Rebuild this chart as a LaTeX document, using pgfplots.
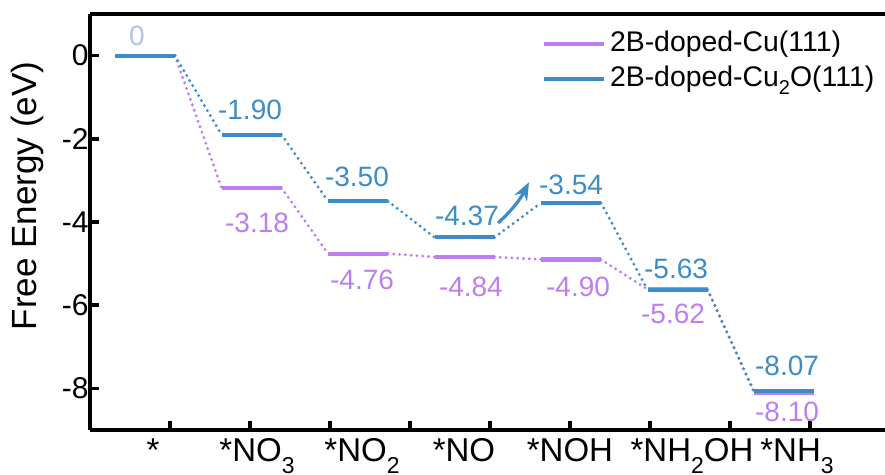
\documentclass[border=0pt]{standalone}
\usepackage{pgfplots}
\pgfplotsset{compat=1.18}
\usepackage{fontspec}
\setmainfont{Liberation Sans}
\usetikzlibrary{arrows.meta}

\definecolor{cuoblue}{RGB}{60,140,200}
\definecolor{cupurple}{RGB}{190,125,240}
\definecolor{zerolbl}{RGB}{175,195,240}

\newcommand{\vallbl}{\fontsize{14}{16}\selectfont}
% lowered subscripts for the species names and the legend
\newcommand{\tsub}[1]{\raisebox{-0.34em}{\fontsize{11.5}{12}\selectfont #1}}
\newcommand{\lsub}[1]{\raisebox{-0.3em}{\fontsize{10}{11}\selectfont #1}}

\begin{document}
\begin{tikzpicture}
\begin{axis}[
  at={(0,0)}, anchor=south west,
  scale only axis, width=397.5pt, height=208pt,
  xmin=-0.5164, xmax=6.948, ymin=-9, ymax=1,
  axis x line*=box, axis y line*=left,
  axis line style={-, line width=2pt},
  tick align=inside,
  xtick pos=left, ytick pos=left,
  major tick length=4.5pt,
  tick style={line width=1.8pt, black},
  ytick={-8,-6,-4,-2,0},
  yticklabel style={font=\fontsize{15}{17}\selectfont, inner xsep=0.5pt},
  /pgf/number format/assume math mode=true,
  xtick={0.2347,0.9859,1.7371,2.4883,3.2394,3.9906,4.7418,5.4930,6.2441},
  xticklabels={},
  extra x ticks={0.075,1.052,2.038,2.995,3.990,5.136,6.122},
  extra x tick labels={*,*NO\tsub{3},*NO\tsub{2},*NO,*NOH,*NH\tsub{2}OH,*NH\tsub{3}},
  extra x tick style={major tick length=0pt,
    xticklabel style={font=\fontsize{16.5}{18}\selectfont, inner ysep=2pt,
      anchor=base, yshift=-16pt}},
  ylabel={Free Energy (eV)},
  ylabel style={at={(rel axis cs:-0.0667,0.5625)}, anchor=base,
    font=\fontsize{17.5}{20}\selectfont},
  legend style={draw=none, fill=none, at={(rel axis cs:0.5686,0.9615)},
    anchor=north west, inner sep=0pt, outer sep=0pt, row sep=4pt,
    column sep=2pt, font=\fontsize{14.2}{16}\selectfont,
    nodes={inner sep=0pt, text height=10.5pt, text depth=3pt}},
  legend cell align=left,
  legend image code/.code={\draw[line width=2pt] (0pt,0pt) -- (30pt,0pt);},
  unbounded coords=jump,
  clip=false,
]

% dotted connectors between consecutive intermediates
\addplot[cupurple, line width=1.6pt, line cap=round, dash pattern=on 0pt off 2.9pt, forget plot]
  coordinates {(0.2817,0) (0.7183,-3.18) (1,nan)
               (1.2817,-3.18) (1.7183,-4.76) (2,nan)
               (2.2817,-4.76) (2.7183,-4.84) (3,nan)
               (3.2817,-4.84) (3.7183,-4.90) (4,nan)
               (4.2817,-4.90) (4.7183,-5.62) (5,nan)
               (5.2817,-5.62) (5.7183,-8.10)};
\addplot[cuoblue, line width=1.6pt, line cap=round, dash pattern=on 0pt off 2.9pt, forget plot]
  coordinates {(0.2817,0) (0.7183,-1.90) (1,nan)
               (1.2817,-1.90) (1.7183,-3.50) (2,nan)
               (2.2817,-3.50) (2.7183,-4.37) (3,nan)
               (3.2817,-4.37) (3.7183,-3.54) (4,nan)
               (4.2817,-3.54) (4.7183,-5.63) (5,nan)
               (5.2817,-5.63) (5.7183,-8.07)};

% energy levels
\addplot[cupurple, line width=2.1pt]
  coordinates {(-0.2817,0) (0.2817,0) (0.5,nan)
               (0.7183,-3.18) (1.2817,-3.18) (1.5,nan)
               (1.7183,-4.76) (2.2817,-4.76) (2.5,nan)
               (2.7183,-4.84) (3.2817,-4.84) (3.5,nan)
               (3.7183,-4.90) (4.2817,-4.90) (4.5,nan)
               (4.7183,-5.62) (5.2817,-5.62) (5.5,nan)
               (5.7183,-8.10) (6.2817,-8.10)};
\addlegendentry{2B-doped-Cu(111)}
\addplot[cuoblue, line width=2.1pt]
  coordinates {(-0.2817,0) (0.2817,0) (0.5,nan)
               (0.7183,-1.90) (1.2817,-1.90) (1.5,nan)
               (1.7183,-3.50) (2.2817,-3.50) (2.5,nan)
               (2.7183,-4.37) (3.2817,-4.37) (3.5,nan)
               (3.7183,-3.54) (4.2817,-3.54) (4.5,nan)
               (4.7183,-5.63) (5.2817,-5.63) (5.5,nan)
               (5.7183,-8.07) (6.2817,-8.07)};
\addlegendentry{2B-doped-Cu\lsub{2}O(111)}

% value labels
\node[text=zerolbl, font=\vallbl, yshift=10pt] at (axis cs:-0.075,0) {0};
\node[text=cuoblue, font=\vallbl, yshift=12.2pt] at (axis cs:0.986,-1.90) {-1.90};
\node[text=cuoblue, font=\vallbl, yshift=12pt] at (axis cs:1.990,-3.50) {-3.50};
\node[text=cuoblue, font=\vallbl, yshift=10.7pt] at (axis cs:3.023,-4.37) {-4.37};
\node[text=cuoblue, font=\vallbl, yshift=8.9pt] at (axis cs:4.000,-3.54) {-3.54};
\node[text=cuoblue, font=\vallbl, yshift=10.5pt] at (axis cs:4.986,-5.63) {-5.63};
\node[text=cuoblue, font=\vallbl, yshift=12.5pt] at (axis cs:6.028,-8.07) {-8.07};
\node[text=cupurple, font=\vallbl, yshift=-17.3pt] at (axis cs:1.052,-3.18) {-3.18};
\node[text=cupurple, font=\vallbl, yshift=-13.2pt] at (axis cs:2.038,-4.76) {-4.76};
\node[text=cupurple, font=\vallbl, yshift=-15pt] at (axis cs:3.060,-4.84) {-4.84};
\node[text=cupurple, font=\vallbl, yshift=-13.7pt] at (axis cs:4.066,-4.90) {-4.90};
\node[text=cupurple, font=\vallbl, yshift=-12.2pt] at (axis cs:4.958,-5.62) {-5.62};
\node[text=cupurple, font=\vallbl, yshift=-9.9pt] at (axis cs:6.028,-8.10) {-8.10};

% rising step on the Cu2O(111) path
\draw[cuoblue, line width=1.6pt, -{Stealth[length=9pt,width=7pt]}]
  (axis cs:3.3146,-4.024) to[bend right=10] (axis cs:3.6056,-3.042);
\end{axis}
\pgfresetboundingbox
\path (-45pt,-22.5pt) rectangle (397.5pt,215pt);
\end{tikzpicture}
\end{document}
